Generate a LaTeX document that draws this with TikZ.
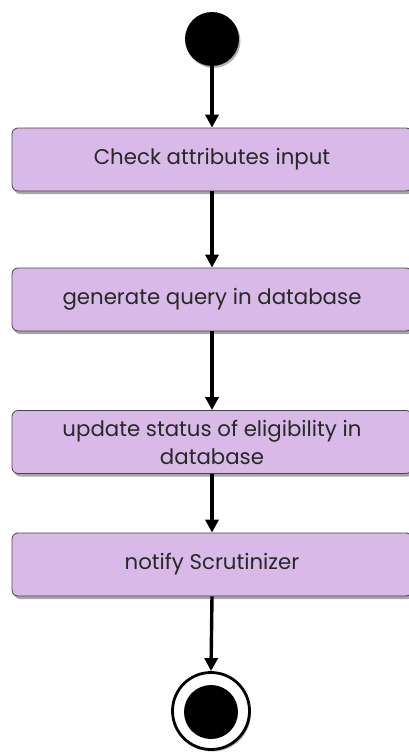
\documentclass[tikz,border=0pt]{standalone}
\usepackage{fontspec}
\setmainfont{Poppins}
\usetikzlibrary{arrows.meta,shadows}
\definecolor{boxfill}{RGB}{216,185,232}
\definecolor{boxline}{RGB}{70,70,70}
\definecolor{txt}{RGB}{40,40,40}
\tikzset{
  actbox/.style={draw=boxline, line width=0.8pt, fill=boxfill, rounded corners=6pt,
    minimum width=400pt, minimum height=63pt, inner sep=0pt, align=center,
    font=\fontsize{21.3}{28}\selectfont, text=txt,
    drop shadow={shadow xshift=2pt, shadow yshift=-3pt, opacity=0.35, fill=black}},
  flow/.style={line width=3.4pt, -{Triangle[width=13pt,length=13pt]}},
  startdot/.style={circle, fill=black, minimum size=54pt, inner sep=0pt,
    drop shadow={shadow xshift=1.5pt, shadow yshift=-2pt, opacity=0.3, fill=black}},
  endring/.style={circle, draw=black, line width=2.8pt, fill=white, minimum size=77pt, inner sep=0pt,
    drop shadow={shadow xshift=1.5pt, shadow yshift=-2pt, opacity=0.3, fill=black}},
  enddot/.style={circle, fill=black, minimum size=54pt, inner sep=0pt}
}
\begin{document}
\begin{tikzpicture}[x=1pt,y=1pt]
\useasboundingbox (0,0) rectangle (408,-752);
\node[startdot] (s) at (212,-39) {};
\node[actbox] (b1) at (212,-159.5) {Check attributes input};
\node[actbox] (b2) at (212,-299.5) {generate query in database};
\node[actbox] (b3) at (212,-442) {update status of eligibility in\\database};
\node[actbox] (b4) at (212,-564.5) {notify Scrutinizer};
\node[endring] (e) at (211,-711) {};
\node[enddot] (ed) at (211,-712) {};
\draw[flow] (s) -- (b1);
\draw[flow] (b1) -- (b2);
\draw[flow] (b2) -- (b3);
\draw[flow] (b3) -- (b4);
\draw[flow] (b4.south) -- (e.north);
\end{tikzpicture}
\end{document}
